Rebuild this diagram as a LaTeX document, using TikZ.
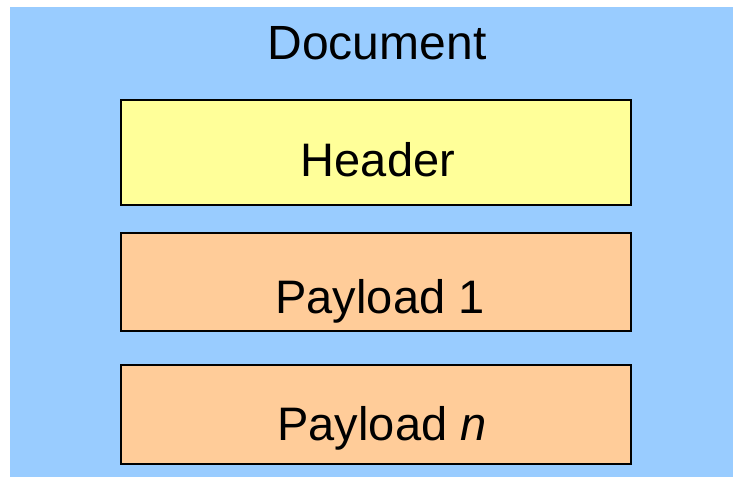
\documentclass[tikz,border=0pt]{standalone}
\usepackage{fontspec}
\setmainfont{Liberation Sans}
\usetikzlibrary{positioning}
\definecolor{docblue}{HTML}{99CCFF}
\definecolor{hdryellow}{HTML}{FFFF99}
\definecolor{plorange}{HTML}{FFCC99}

\begin{document}
\begin{tikzpicture}[x=1pt,y=1pt,
  block/.style={draw,line width=2.2pt,rectangle,minimum width=510pt,outer sep=0pt,inner sep=0pt},
  lbl/.style={anchor=base,inner sep=0pt,font=\fontsize{47}{54}\selectfont}]

        \useasboundingbox (0,0) rectangle (733,477);
        \fill[docblue] (10,0) rectangle (733,470);

        \node (doc) [lbl,font=\fontsize{48}{56}\selectfont] at (377,417) {Document};

        \node (hdr) [block,fill=hdryellow,minimum height=105pt] at (376,324.5) {};
        \node (pl1) [block,fill=plorange,minimum height=98pt,below = 28pt of hdr] {};
        \node (pln) [block,fill=plorange,minimum height=99pt,below = 34pt of pl1] {};

        \node (hdrtxt) [lbl] at ([xshift=2pt,yshift=-24.5pt]hdr.center) {Header};
        \node (pl1txt) [lbl] at ([xshift=4pt,yshift=-31pt]pl1.center) {Payload 1};
        \node (plntxt) [lbl] at ([xshift=6pt,yshift=-25.5pt]pln.center) {Payload \textit{n}};
      \end{tikzpicture}
\end{document}
